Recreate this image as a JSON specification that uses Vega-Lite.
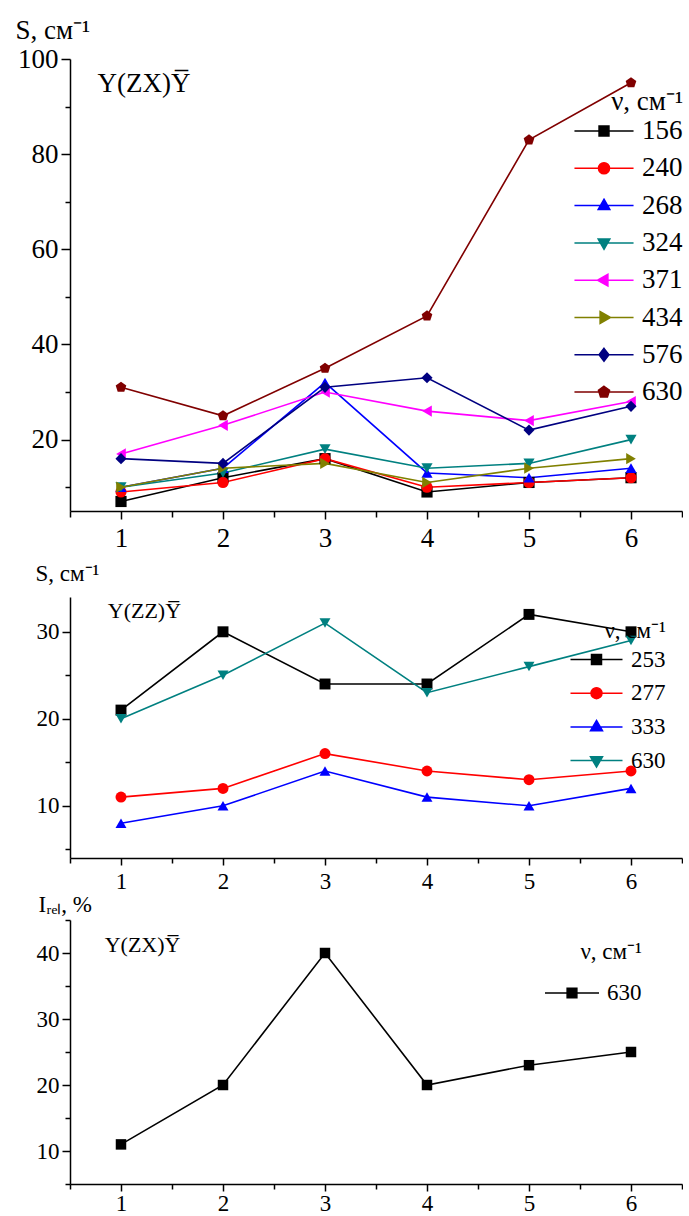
{
  "$schema": "https://vega.github.io/schema/vega-lite/v6.json",
  "autosize": {"type": "pad"},
  "padding": {"left": 15, "top": 16, "right": 0, "bottom": 0},
  "background": "white",
  "bounds": "flush",
  "spacing": 86,
  "config": {
    "font": "Liberation Serif",
    "view": {"stroke": null},
    "axis": {"domainColor": "black", "tickColor": "black", "labelColor": "black", "titleColor": "black", "domainWidth": 1.5, "tickWidth": 1.5, "grid": false, "labelFont": "Liberation Serif", "titleFont": "Liberation Serif", "titleFontWeight": "normal", "labelFlush": false, "labelOverlap": false},
    "legend": {"labelFont": "Liberation Serif", "titleFont": "Liberation Serif", "titleFontWeight": "normal", "padding": 0, "labelColor": "black", "titleColor": "black", "symbolStrokeWidth": 1.5},
    "text": {"font": "Liberation Serif", "color": "black"}
  },
  "datasets": {
    "p1": [
      {"nu": "156", "n": 1, "s": 7}, {"nu": "156", "n": 2, "s": 12}, {"nu": "156", "n": 3, "s": 16}, {"nu": "156", "n": 4, "s": 9}, {"nu": "156", "n": 5, "s": 11}, {"nu": "156", "n": 6, "s": 12},
      {"nu": "240", "n": 1, "s": 9}, {"nu": "240", "n": 2, "s": 11}, {"nu": "240", "n": 3, "s": 16}, {"nu": "240", "n": 4, "s": 10}, {"nu": "240", "n": 5, "s": 11}, {"nu": "240", "n": 6, "s": 12},
      {"nu": "268", "n": 1, "s": 10}, {"nu": "268", "n": 2, "s": 14}, {"nu": "268", "n": 3, "s": 32}, {"nu": "268", "n": 4, "s": 13}, {"nu": "268", "n": 5, "s": 12}, {"nu": "268", "n": 6, "s": 14},
      {"nu": "324", "n": 1, "s": 10}, {"nu": "324", "n": 2, "s": 13}, {"nu": "324", "n": 3, "s": 18}, {"nu": "324", "n": 4, "s": 14}, {"nu": "324", "n": 5, "s": 15}, {"nu": "324", "n": 6, "s": 20},
      {"nu": "371", "n": 1, "s": 17}, {"nu": "371", "n": 2, "s": 23}, {"nu": "371", "n": 3, "s": 30}, {"nu": "371", "n": 4, "s": 26}, {"nu": "371", "n": 5, "s": 24}, {"nu": "371", "n": 6, "s": 28},
      {"nu": "434", "n": 1, "s": 10}, {"nu": "434", "n": 2, "s": 14}, {"nu": "434", "n": 3, "s": 15}, {"nu": "434", "n": 4, "s": 11}, {"nu": "434", "n": 5, "s": 14}, {"nu": "434", "n": 6, "s": 16},
      {"nu": "576", "n": 1, "s": 16}, {"nu": "576", "n": 2, "s": 15}, {"nu": "576", "n": 3, "s": 31}, {"nu": "576", "n": 4, "s": 33}, {"nu": "576", "n": 5, "s": 22}, {"nu": "576", "n": 6, "s": 27},
      {"nu": "630", "n": 1, "s": 31}, {"nu": "630", "n": 2, "s": 25}, {"nu": "630", "n": 3, "s": 35}, {"nu": "630", "n": 4, "s": 46}, {"nu": "630", "n": 5, "s": 83}, {"nu": "630", "n": 6, "s": 95}
    ],
    "p2": [
      {"nu": "253", "n": 1, "s": 21}, {"nu": "253", "n": 2, "s": 30}, {"nu": "253", "n": 3, "s": 24}, {"nu": "253", "n": 4, "s": 24}, {"nu": "253", "n": 5, "s": 32}, {"nu": "253", "n": 6, "s": 30},
      {"nu": "277", "n": 1, "s": 11}, {"nu": "277", "n": 2, "s": 12}, {"nu": "277", "n": 3, "s": 16}, {"nu": "277", "n": 4, "s": 14}, {"nu": "277", "n": 5, "s": 13}, {"nu": "277", "n": 6, "s": 14},
      {"nu": "333", "n": 1, "s": 8}, {"nu": "333", "n": 2, "s": 10}, {"nu": "333", "n": 3, "s": 14}, {"nu": "333", "n": 4, "s": 11}, {"nu": "333", "n": 5, "s": 10}, {"nu": "333", "n": 6, "s": 12},
      {"nu": "630", "n": 1, "s": 20}, {"nu": "630", "n": 2, "s": 25}, {"nu": "630", "n": 3, "s": 31}, {"nu": "630", "n": 4, "s": 23}, {"nu": "630", "n": 5, "s": 26}, {"nu": "630", "n": 6, "s": 29}
    ],
    "p3": [
      {"nu": "630", "n": 1, "s": 11}, {"nu": "630", "n": 2, "s": 20}, {"nu": "630", "n": 3, "s": 40}, {"nu": "630", "n": 4, "s": 20}, {"nu": "630", "n": 5, "s": 23}, {"nu": "630", "n": 6, "s": 25}
    ]
  },
  "resolve": {"scale": {"color": "independent"}, "legend": {"color": "independent"}},
  "vconcat": [
    {
      "width": 612,
      "height": 452,
      "data": {"name": "p1"},
      "encoding": {
        "x": {"field": "n", "type": "quantitative", "scale": {"domain": [0.5, 6.5], "nice": false, "zero": false},
          "axis": {"values": [0.5, 1, 1.5, 2, 2.5, 3, 3.5, 4, 4.5, 5, 5.5, 6, 6.5], "labelExpr": "datum.value % 1 === 0 ? '' + datum.value : ''", "tickSize": {"condition": {"test": "datum.value % 1 === 0", "value": 8}, "value": 6}, "title": null, "labelFontSize": 27, "labelPadding": 6}},
        "y": {"field": "s", "type": "quantitative", "scale": {"domain": [5, 100], "nice": false, "zero": false},
          "axis": {"values": [10, 20, 30, 40, 50, 60, 70, 80, 90, 100], "labelExpr": "datum.value % 20 === 0 ? datum.label : ''", "tickSize": {"condition": {"test": "datum.value % 20 === 0", "value": 9}, "value": 5}, "labelFontSize": 27, "labelPadding": 3, "title": "S, см⁻¹", "titleAngle": 0, "titleAlign": "left", "titleBaseline": "alphabetic", "titleX": -55, "titleY": -21, "titleFontSize": 27}}
      },
      "layer": [
        {
          "mark": {"type": "line", "strokeWidth": 1.6},
          "encoding": {
            "color": {"field": "nu", "type": "nominal",
              "scale": {"domain": ["156", "240", "268", "324", "371", "434", "576", "630"], "range": ["#000000", "#ff0000", "#0000ff", "#008080", "#ff00ff", "#808000", "#000080", "#800000"]},
              "legend": {"orient": "none", "legendX": 518, "legendY": 30, "title": "ν, см⁻¹", "titleAnchor": "end", "titleFontSize": 27, "labelFontSize": 27, "symbolSize": 900, "labelOffset": 22, "rowPadding": 8.3, "titlePadding": -1,
                "encode": {"symbols": {"update": {
                  "shape": {"signal": "datum.value==='156'?'M-1.97,0H1.97M-0.33,-0.33H0.33V0.33H-0.33Z':datum.value==='240'?'M-1.97,0H1.97M-0.37,0A0.37,0.37,0,1,0,0.37,0A0.37,0.37,0,1,0,-0.37,0Z':datum.value==='268'?'M-1.97,0H1.97M0,-0.43L0.39,0.26L-0.39,0.26Z':datum.value==='324'?'M-1.97,0H1.97M0,0.43L0.39,-0.26L-0.39,-0.26Z':datum.value==='371'?'M-1.97,0H1.97M-0.43,0L0.26,-0.39L0.26,0.39Z':datum.value==='434'?'M-1.97,0H1.97M0.43,0L-0.26,-0.39L-0.26,0.39Z':datum.value==='576'?'M-1.97,0H1.97M0,-0.43L0.33,0L0,0.43L-0.33,0Z':'M-1.97,0H1.97M0,-0.39L0.37,-0.12L0.23,0.32L-0.23,0.32L-0.37,-0.12Z'"},
                  "fill": {"signal": "datum.value==='156'?'#000000':datum.value==='240'?'#ff0000':datum.value==='268'?'#0000ff':datum.value==='324'?'#008080':datum.value==='371'?'#ff00ff':datum.value==='434'?'#808000':datum.value==='576'?'#000080':'#800000'"},
                  "stroke": {"signal": "datum.value==='156'?'#000000':datum.value==='240'?'#ff0000':datum.value==='268'?'#0000ff':datum.value==='324'?'#008080':datum.value==='371'?'#ff00ff':datum.value==='434'?'#808000':datum.value==='576'?'#000080':'#800000'"},
                  "opacity": {"value": 1}
                }}}}
            }
          }
        },
        {
          "mark": {"type": "point", "filled": true, "opacity": 1, "size": 125},
          "encoding": {
            "color": {"field": "nu", "type": "nominal", "legend": null},
            "shape": {"condition": [
              {"test": "datum.nu==='156'", "value": "square"},
              {"test": "datum.nu==='240'", "value": "circle"},
              {"test": "datum.nu==='268'", "value": "triangle-up"},
              {"test": "datum.nu==='324'", "value": "triangle-down"},
              {"test": "datum.nu==='371'", "value": "triangle-left"},
              {"test": "datum.nu==='434'", "value": "triangle-right"},
              {"test": "datum.nu==='576'", "value": "diamond"}
            ], "value": "M0,-1L0.951,-0.309L0.588,0.809L-0.588,0.809L-0.951,-0.309Z"}
          }
        },
        {
          "transform": [{"filter": "datum.nu === '156' && datum.n === 1"}],
          "mark": {"type": "text", "align": "left", "baseline": "middle", "fontSize": 27, "text": "Y(ZX)Y\u0305"},
          "encoding": {"x": {"datum": 0.77, "type": "quantitative"}, "y": {"datum": 94.7, "type": "quantitative"}}
        }
      ]
    },
    {
      "bounds": "flush",
      "spacing": 62,
      "resolve": {"scale": {"color": "independent"}, "legend": {"color": "independent"}},
      "vconcat": [
        {
          "width": 612,
          "height": 261,
          "data": {"name": "p2"},
          "encoding": {
            "x": {"field": "n", "type": "quantitative", "scale": {"domain": [0.5, 6.5], "nice": false, "zero": false},
              "axis": {"values": [0.5, 1, 1.5, 2, 2.5, 3, 3.5, 4, 4.5, 5, 5.5, 6, 6.5], "labelExpr": "datum.value % 1 === 0 ? '' + datum.value : ''", "tickSize": {"condition": {"test": "datum.value % 1 === 0", "value": 7}, "value": 5}, "title": null, "labelFontSize": 23, "labelPadding": 5}},
            "y": {"field": "s", "type": "quantitative", "scale": {"domain": [4, 34], "nice": false, "zero": false},
              "axis": {"values": [5, 10, 15, 20, 25, 30], "labelExpr": "datum.value % 10 === 0 ? datum.label : ''", "tickSize": {"condition": {"test": "datum.value % 10 === 0", "value": 8}, "value": 5}, "labelFontSize": 23, "labelPadding": 3, "title": "S, см⁻¹", "titleAngle": 0, "titleAlign": "left", "titleBaseline": "alphabetic", "titleX": -35, "titleY": -17, "titleFontSize": 23}}
          },
          "layer": [
            {
              "mark": {"type": "line", "strokeWidth": 1.6},
              "encoding": {
                "color": {"field": "nu", "type": "nominal",
                  "scale": {"domain": ["253", "277", "333", "630"], "range": ["#000000", "#ff0000", "#0000ff", "#008080"]},
                  "legend": {"orient": "none", "legendX": 513, "legendY": 23, "title": "ν, см⁻¹", "titleAnchor": "end", "titleFontSize": 23, "labelFontSize": 23, "symbolSize": 625, "labelOffset": 21, "rowPadding": 7.7, "titlePadding": 3,
                    "encode": {"symbols": {"update": {
                      "shape": {"signal": "datum.value==='253'?'M-2.08,0H2.08M-0.4,-0.4H0.4V0.4H-0.4Z':datum.value==='277'?'M-2.08,0H2.08M-0.44,0A0.44,0.44,0,1,0,0.44,0A0.44,0.44,0,1,0,-0.44,0Z':datum.value==='333'?'M-2.08,0H2.08M0,-0.52L0.48,0.3L-0.48,0.3Z':'M-2.08,0H2.08M0,0.52L0.48,-0.3L-0.48,-0.3Z'"},
                      "fill": {"signal": "datum.value==='253'?'#000000':datum.value==='277'?'#ff0000':datum.value==='333'?'#0000ff':'#008080'"},
                      "stroke": {"signal": "datum.value==='253'?'#000000':datum.value==='277'?'#ff0000':datum.value==='333'?'#0000ff':'#008080'"},
                      "opacity": {"value": 1}
                    }}}}
                }
              }
            },
            {
              "mark": {"type": "point", "filled": true, "opacity": 1, "size": 120},
              "encoding": {
                "color": {"field": "nu", "type": "nominal", "legend": null},
                "shape": {"condition": [
                  {"test": "datum.nu==='253'", "value": "square"},
                  {"test": "datum.nu==='277'", "value": "circle"},
                  {"test": "datum.nu==='333'", "value": "triangle-up"}
                ], "value": "triangle-down"}
              }
            },
            {
              "transform": [{"filter": "datum.nu === '253' && datum.n === 1"}],
              "mark": {"type": "text", "align": "left", "baseline": "middle", "fontSize": 22, "text": "Y(ZZ)Y\u0305"},
              "encoding": {"x": {"datum": 0.87, "type": "quantitative"}, "y": {"datum": 32.4, "type": "quantitative"}}
            }
          ]
        },
        {
          "width": 612,
          "height": 264,
          "data": {"name": "p3"},
          "encoding": {
            "x": {"field": "n", "type": "quantitative", "scale": {"domain": [0.5, 6.5], "nice": false, "zero": false},
              "axis": {"values": [0.5, 1, 1.5, 2, 2.5, 3, 3.5, 4, 4.5, 5, 5.5, 6, 6.5], "labelExpr": "datum.value % 1 === 0 ? '' + datum.value : ''", "tickSize": {"condition": {"test": "datum.value % 1 === 0", "value": 7}, "value": 5}, "title": null, "labelFontSize": 23, "labelPadding": 1}},
            "y": {"field": "s", "type": "quantitative", "scale": {"domain": [5, 45], "nice": false, "zero": false},
              "axis": {"values": [5, 10, 15, 20, 25, 30, 35, 40, 45], "labelExpr": "datum.value % 10 === 0 ? datum.label : ''", "tickSize": {"condition": {"test": "datum.value % 10 === 0", "value": 8}, "value": 5}, "labelFontSize": 23, "labelPadding": 3, "title": "Iᵣₑₗ, %", "titleAngle": 0, "titleAlign": "left", "titleBaseline": "alphabetic", "titleX": -32, "titleY": -9, "titleFontSize": 23}}
          },
          "layer": [
            {
              "mark": {"type": "line", "strokeWidth": 1.6},
              "encoding": {
                "color": {"field": "nu", "type": "nominal",
                  "scale": {"domain": ["630"], "range": ["#000000"]},
                  "legend": {"orient": "none", "legendX": 474, "legendY": 21, "title": "ν, см⁻¹", "titleAnchor": "end", "titleFontSize": 23, "labelFontSize": 23, "symbolSize": 2916, "labelOffset": 7, "rowPadding": 10, "titlePadding": 1,
                    "encode": {"symbols": {"update": {
                      "shape": {"value": "M-1,0H1M-0.18,-0.18H0.18V0.18H-0.18Z"},
                      "fill": {"value": "#000000"},
                      "stroke": {"value": "#000000"},
                      "opacity": {"value": 1}
                    }}}}
                }
              }
            },
            {
              "mark": {"type": "point", "filled": true, "opacity": 1, "size": 110, "shape": "square"},
              "encoding": {"color": {"field": "nu", "type": "nominal", "legend": null}}
            },
            {
              "transform": [{"filter": "datum.n === 1"}],
              "mark": {"type": "text", "align": "left", "baseline": "middle", "fontSize": 22, "text": "Y(ZX)Y\u0305"},
              "encoding": {"x": {"datum": 0.84, "type": "quantitative"}, "y": {"datum": 41.2, "type": "quantitative"}}
            }
          ]
        }
      ]
    }
  ]
}
